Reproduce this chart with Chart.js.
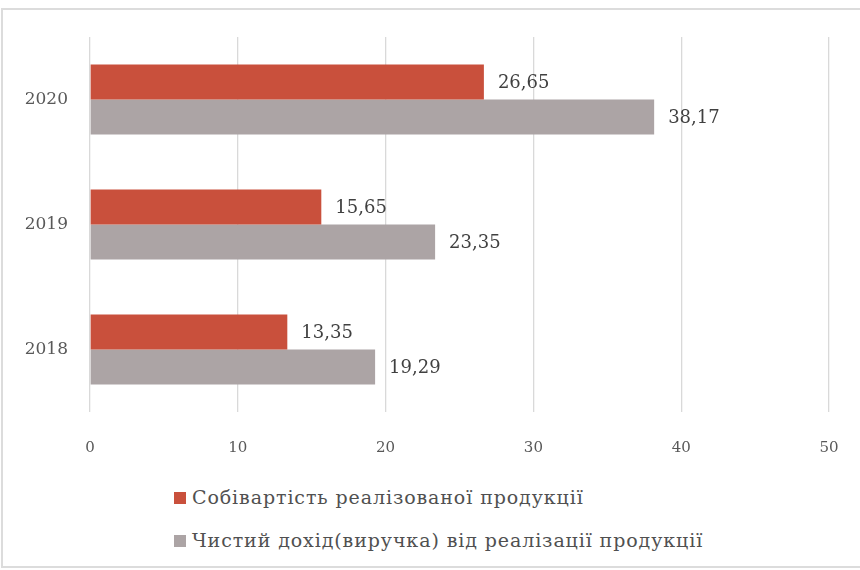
<!DOCTYPE html>
<html>
<head>
<meta charset="utf-8">
<script src="https://cdn.jsdelivr.net/npm/chart.js@4"></script>
<style>
    html, body { margin: 0; padding: 0; background: #fff; }
    body { width: 860px; height: 570px; position: relative; overflow: hidden; }
    #frame {
        position: absolute; left: 1px; top: 8px; width: 900px; height: 560px;
        border: 2px solid #dcdcdc; box-sizing: border-box;
    }
    #wrap { position: absolute; left: 0; top: 0; width: 860px; height: 470px; }
    #legend {
        position: absolute; left: 174px; top: 480px;
        font-family: "DejaVu Serif", "Liberation Serif", serif; font-size: 19px;
        letter-spacing: 0.9px; color: #505050;
    }
    #legend div { height: 43px; line-height: 34px; white-space: nowrap; }
    #legend span.box { display: inline-block; width: 12px; height: 12px; margin-right: 6px; vertical-align: 0px; }
</style>
</head>
<body>
<div id="frame"></div>
<div id="wrap"><canvas id="BarChart" width="860" height="470"></canvas></div>
<div id="legend"></div>

<script>
    var years = ['2020', '2019', '2018'];
    var sobivartist = [26.65, 15.65, 13.35];
    var dokhid = [38.17, 23.35, 19.29];
    var seriesNames = [
        'Собівартість реалізованої продукції',
        'Чистий дохід(виручка) від реалізації продукції'
    ];
    var xTicks = [0, 10, 20, 30, 40, 50];

    var colors = ['#c9503c', '#aca4a5'];
    var fontFamily = '"DejaVu Serif", "Liberation Serif", serif';

    //Value labels drawn next to each bar//
    var valueLabels = {
        id: 'valueLabels',
        afterDatasetsDraw: function (chart) {
            var ctx = chart.ctx;
            ctx.save();
            ctx.font = '18px ' + fontFamily;
            ctx.fillStyle = '#404040';
            ctx.textBaseline = 'middle';
            ctx.textAlign = 'left';
            chart.data.datasets.forEach(function (ds, i) {
                var meta = chart.getDatasetMeta(i);
                meta.data.forEach(function (bar, j) {
                    var txt = ds.data[j].toFixed(2).replace('.', ',');
                    ctx.fillText(txt, bar.x + 14, bar.y + 1);
                });
            });
            ctx.restore();
        }
    };

    var ctx = document.getElementById('BarChart').getContext('2d');
    var data = {
        labels: years,
        datasets: [{
            label: seriesNames[0],
            data: sobivartist,
            backgroundColor: colors[0]
        }, {
            label: seriesNames[1],
            data: dokhid,
            backgroundColor: colors[1]
        }]
    };

    var myBarChart = new Chart(ctx, {
        type: 'bar',
        data: data,
        plugins: [valueLabels],
        options: {
            indexAxis: 'y',
            responsive: false,
            animation: false,
            categoryPercentage: 0.56,
            barPercentage: 1.0,
            layout: { padding: { top: 37, right: 31, left: 0, bottom: 0 } },
            plugins: {
                legend: { display: false },
                tooltip: { enabled: false }
            },
            scales: {
                x: {
                    min: xTicks[0],
                    max: xTicks[xTicks.length - 1],
                    afterBuildTicks: function (scale) {
                        scale.ticks = xTicks.map(function (v) { return { value: v }; });
                    },
                    afterFit: function (scale) {
                        scale.height = 58;
                        scale.paddingLeft = 0;
                        scale.paddingRight = 0;
                    },
                    border: { display: false },
                    grid: { color: '#d9d9d9', lineWidth: 1.3, drawTicks: false },
                    ticks: {
                        padding: 27,
                        color: '#595959',
                        font: { family: fontFamily, size: 15 }
                    }
                },
                y: {
                    afterFit: function (scale) { scale.width = 90; },
                    border: { display: false },
                    grid: { display: false, drawTicks: false },
                    ticks: {
                        padding: 22,
                        color: '#595959',
                        font: { family: fontFamily, size: 17 }
                    }
                }
            }
        }
    });

    //Legend below the chart, one entry per row//
    var legend = document.getElementById('legend');
    data.datasets.forEach(function (ds) {
        var row = document.createElement('div');
        var box = document.createElement('span');
        box.className = 'box';
        box.style.background = ds.backgroundColor;
        row.appendChild(box);
        row.appendChild(document.createTextNode(ds.label));
        legend.appendChild(row);
    });
</script>
</body>
</html>
